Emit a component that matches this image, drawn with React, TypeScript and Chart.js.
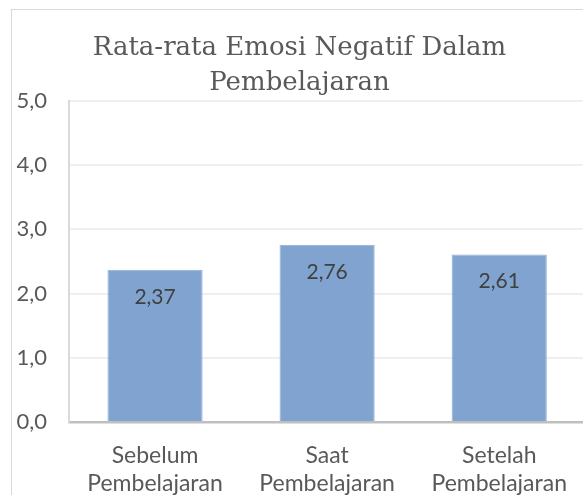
import React, { useEffect, useRef } from "react";
import { Chart, registerables } from "chart.js";

Chart.register(...registerables);

const titleLines = ["Rata-rata Emosi Negatif Dalam", "Pembelajaran"];
const categories = [
  ["Sebelum", "Pembelajaran"],
  ["Saat", "Pembelajaran"],
  ["Setelah", "Pembelajaran"],
];
const values = [2.37, 2.76, 2.61];
const yMin = 0;
const yMax = 5;
const yStep = 1;

const fmt = (v: number, d: number) => v.toFixed(d).replace(".", ",");

const CANVAS_W = 575;
const CANVAS_H = 500;
const AREA_LEFT = 57;
const AREA_BOTTOM = 412;

const dataLabels = {
  id: "dataLabels",
  afterDatasetsDraw(chart: any) {
    const ctx = chart.ctx;
    const meta = chart.getDatasetMeta(0);
    ctx.save();
    ctx.font = "21px Lato";
    ctx.fillStyle = "#404040";
    ctx.textAlign = "center";
    ctx.textBaseline = "middle";
    meta.data.forEach((bar: any, i: number) => {
      ctx.fillText(fmt(values[i], 2), bar.x, bar.y + 27);
    });
    ctx.restore();
  },
};

export default function App() {
  const ref = useRef<HTMLCanvasElement | null>(null);
  useEffect(() => {
    document.body.style.margin = "0";
    document.body.style.overflow = "hidden";
    if (!ref.current) return;
    const chart = new Chart(ref.current, {
      type: "bar",
      data: {
        labels: categories,
        datasets: [
          {
            data: values,
            backgroundColor: "#80a4cf",
            borderColor: "#8fb0d8",
            borderWidth: 1,
            barPercentage: 0.553,
            categoryPercentage: 1,
          },
        ],
      },
      options: {
        responsive: false,
        animation: false,
        devicePixelRatio: 1,
        layout: { padding: { top: 20.8, left: 0, right: 0, bottom: 0 } },
        plugins: {
          legend: { display: false },
          tooltip: { enabled: false },
          title: {
            display: true,
            text: titleLines,
            color: "#595959",
            font: { family: "DejaVu Serif", size: 26, weight: "normal", lineHeight: 1.35 },
            padding: { top: 0, bottom: 0 },
          },
        },
        scales: {
          x: {
            offset: true,
            grid: { display: false, drawTicks: false },
            border: { display: true, color: "#bfbfbf", width: 2.5 },
            ticks: {
              color: "#595959",
              font: { family: "Lato", size: 23, lineHeight: 1.2 },
              padding: 20,
              maxRotation: 0,
              autoSkip: false,
            },
            afterFit(scale: any) {
              scale.height = CANVAS_H - AREA_BOTTOM;
            },
          },
          y: {
            min: yMin,
            max: yMax,
            grid: { color: "#efefef", lineWidth: 2, drawTicks: false },
            border: { display: true, color: "#d9d9d9", width: 2 },
            ticks: {
              stepSize: yStep,
              color: "#595959",
              font: { family: "Lato", size: 22 },
              padding: 22,
              callback: (v: any) => fmt(Number(v), 1),
            },
            afterFit(scale: any) {
              scale.width = AREA_LEFT;
            },
          },
        },
      },
      plugins: [dataLabels],
    });
    return () => chart.destroy();
  }, []);

  return (
    <div style={{ position: "relative", width: 583, height: 495, overflow: "hidden", background: "#fff" }}>
      <div
        style={{
          position: "absolute",
          left: 11,
          top: 9,
          width: 600,
          height: 520,
          borderLeft: "1px solid #d9d9d9",
          borderTop: "1px solid #d9d9d9",
          boxSizing: "border-box",
        }}
      />
      <canvas
        ref={ref}
        width={CANVAS_W}
        height={CANVAS_H}
        style={{ position: "absolute", left: 12, top: 10, width: CANVAS_W, height: CANVAS_H }}
      />
    </div>
  );
}
